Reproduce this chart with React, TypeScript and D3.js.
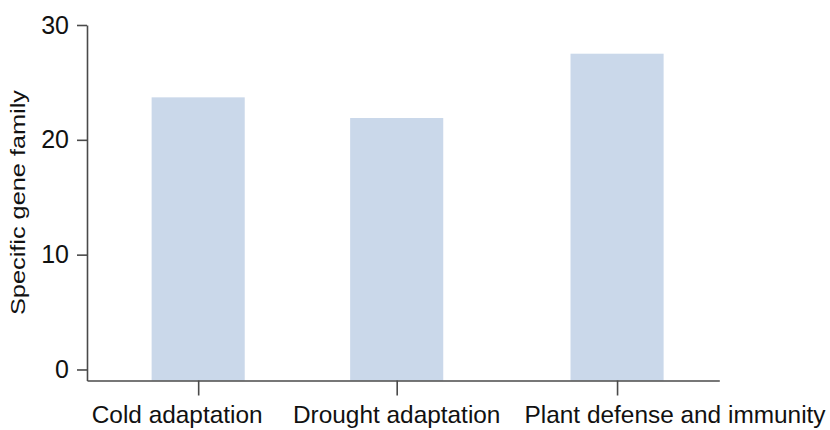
import React, { useEffect, useRef } from "react";
import * as d3 from "d3";

const categories = ["Cold adaptation", "Drought adaptation", "Plant defense and immunity"];
const values = [23.7, 21.9, 27.5];
const xPositions = [1, 2, 3.11];
const yTicks = [0, 10, 20, 30];
const yLabel = "Specific gene family";

// layout (not data)
const W = 830;
const H = 430;
const labelShift = [-21, 0, 58];
const barHalfWidth = 0.2345;
const barColor = "#cad8ea";
const axisColor = "#4a4a4a";
const font = "'Liberation Sans', Arial, sans-serif";

export default function App() {
  const ref = useRef<SVGSVGElement | null>(null);

  useEffect(() => {
    const svg = d3.select(ref.current);
    svg.selectAll("*").remove();

    const x = d3.scaleLinear().domain([0.44, 3.625]).range([87, 719.3]);
    const y = d3.scaleLinear().domain([-0.96, 30]).range([380.5, 25]);

    // bars
    svg
      .append("g")
      .selectAll("rect")
      .data(values)
      .join("rect")
      .attr("x", (_d, i) => x(xPositions[i] - barHalfWidth))
      .attr("width", (_d, i) => x(xPositions[i] + barHalfWidth) - x(xPositions[i] - barHalfWidth))
      .attr("y", (d) => y(d))
      .attr("height", (d) => y(-0.96) - y(d))
      .attr("fill", barColor);

    // y axis
    const gy = svg
      .append("g")
      .attr("transform", `translate(${x(0.44)},0)`)
      .call(
        d3
          .axisLeft(y)
          .tickValues(yTicks)
          .tickSizeOuter(0)
          .tickSizeInner(10)
          .tickPadding(8)
          .tickFormat(d3.format("d"))
      );
    gy.selectAll("path,line").attr("stroke", axisColor).attr("stroke-width", 1.6);
    gy.selectAll("text")
      .attr("fill", "#111")
      .style("font-family", font)
      .style("font-size", "25px");

    // x axis
    const gx = svg
      .append("g")
      .attr("transform", `translate(0,${y(-0.96)})`)
      .call(
        d3
          .axisBottom(x)
          .tickValues(xPositions)
          .tickSizeOuter(0)
          .tickSizeInner(15)
          .tickFormat(() => "")
      );
    gx.selectAll("path,line").attr("stroke", axisColor).attr("stroke-width", 1.6);

    // x labels
    svg
      .append("g")
      .selectAll("text")
      .data(categories)
      .join("text")
      .attr("x", (_d, i) => x(xPositions[i]) + labelShift[i])
      .attr("y", 423)
      .attr("text-anchor", "middle")
      .attr("fill", "#111")
      .style("font-family", font)
      .style("font-size", "24.4px")
      .text((d) => d);

    // y label
    svg
      .append("text")
      .attr("transform", `translate(25,202.5) rotate(-90)`)
      .attr("text-anchor", "middle")
      .attr("fill", "#111")
      .attr("textLength", 225)
      .attr("lengthAdjust", "spacingAndGlyphs")
      .style("font-family", font)
      .style("font-size", "20.5px")
      .text(yLabel);
  }, []);

  return (
    <svg
      ref={ref}
      width={W}
      height={H}
      style={{ position: "absolute", left: 0, top: 0, background: "#fff" }}
    />
  );
}
